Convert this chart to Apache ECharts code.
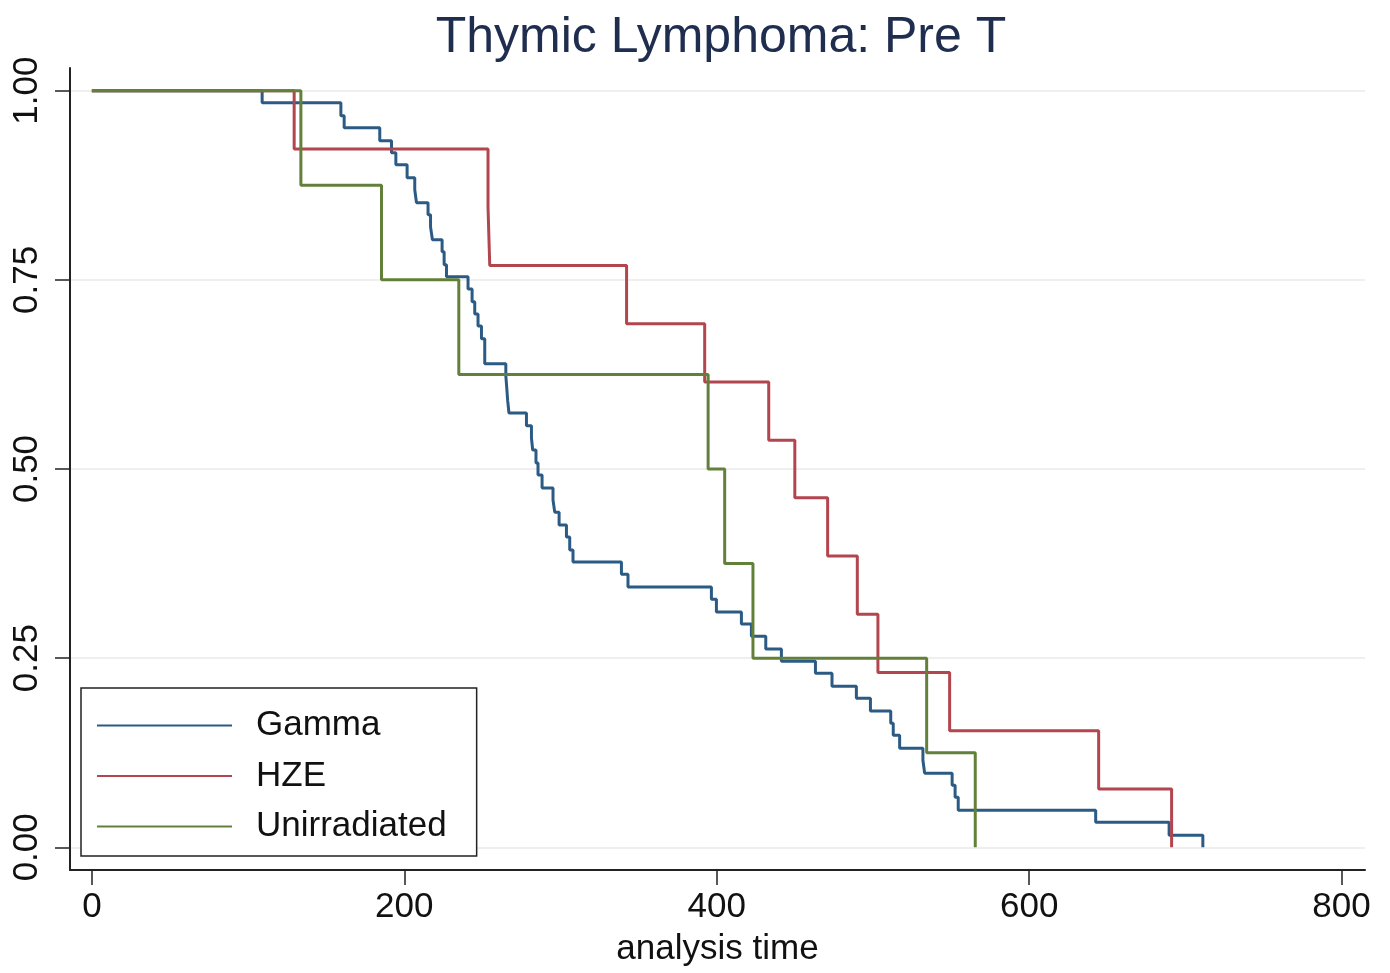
<!DOCTYPE html>
<html>
<head>
<meta charset="utf-8">
<title>Thymic Lymphoma: Pre T</title>
<script src="https://cdn.jsdelivr.net/npm/echarts@6/dist/echarts.min.js"></script>
<style>
  html, body { margin: 0; padding: 0; background: #ffffff; }
  #chart { width: 1390px; height: 973px; }
</style>
</head>
<body>
<div id="chart"></div>
<script>
// Kaplan-Meier survival estimates: event times (analysis time) and survivor function after each step
const gammaTimes = [0, 109.0, 159.4, 161.5, 184.3, 191.8, 194.6, 201.8, 206.7, 207.8, 215.2, 216.8, 218.0,
  224.2, 225.5, 227.0, 240.8, 243.4, 245.1, 247.2, 249.4, 251.5, 265.0, 265.6, 266.2, 267.0, 278.2,
  281.4, 282.2, 284.3, 285.6, 288.2, 295.2, 296.3, 299.1, 303.8, 305.9, 308.0, 339.0, 343.2, 396.6,
  399.8, 415.8, 422.2, 431.4, 441.4, 463.2, 473.8, 489.4, 498.4, 511.4, 513.0, 517.1, 532.0, 533.1,
  550.7, 552.6, 554.6, 642.6, 689.6, 711.2];
const gammaSurv = [1.000, 0.984, 0.967, 0.951, 0.934, 0.918, 0.902, 0.885, 0.869, 0.852, 0.836, 0.820, 0.803,
  0.787, 0.770, 0.754, 0.738, 0.721, 0.705, 0.689, 0.672, 0.639, 0.623, 0.607, 0.590, 0.574, 0.557,
  0.541, 0.525, 0.508, 0.492, 0.475, 0.459, 0.443, 0.426, 0.410, 0.393, 0.377, 0.361, 0.344, 0.328,
  0.311, 0.295, 0.279, 0.262, 0.246, 0.230, 0.213, 0.197, 0.180, 0.164, 0.148, 0.131, 0.115, 0.098,
  0.082, 0.066, 0.049, 0.033, 0.016, 0.000];

const hzeTimes = [0, 129.5, 253.6, 254.7, 342.3, 392.3, 433.3, 450.0, 471.0, 490.0, 503.2, 549.1, 644.5, 691.2];
const hzeSurv  = [1.000, 0.923, 0.846, 0.769, 0.692, 0.615, 0.538, 0.462, 0.385, 0.308, 0.231, 0.154, 0.077, 0.000];

const unirrTimes = [0, 133.8, 185.4, 234.9, 394.5, 405.1, 423.2, 534.4, 565.5];
const unirrSurv  = [1.000, 0.875, 0.750, 0.625, 0.500, 0.375, 0.250, 0.125, 0.000];

const seriesNames = ['Gamma', 'HZE', 'Unirradiated'];
const xTicks = [0, 200, 400, 600, 800];
const yTicks = [0, 0.25, 0.5, 0.75, 1];

const colors = ['#2b5b84', '#b2454d', '#62803a'];
const FONT = '"Liberation Sans", Arial, Helvetica, sans-serif';

function pairs(times, surv) {
  return times.map((t, i) => [t, surv[i]]);
}

const curves = [pairs(gammaTimes, gammaSurv), pairs(hzeTimes, hzeSurv), pairs(unirrTimes, unirrSurv)];

const chart = echarts.init(document.getElementById('chart'), null, { renderer: 'canvas' });

chart.setOption({
  animation: false,
  backgroundColor: '#ffffff',
  color: colors,
  textStyle: { fontFamily: FONT },
  title: {
    text: 'Thymic Lymphoma: Pre T',
    left: 716,
    textAlign: 'center',
    top: 8,
    textStyle: { fontFamily: FONT, fontSize: 50, fontWeight: 'normal', color: '#1f2d4f' }
  },
  grid: { left: 70, right: 25, top: 68, bottom: 103, containLabel: false },
  xAxis: {
    type: 'value',
    min: -14,
    max: 815,
    name: 'analysis time',
    nameLocation: 'middle',
    nameGap: 62,
    nameTextStyle: { fontFamily: FONT, fontSize: 35, color: '#111111' },
    axisLine: { show: true, onZero: false, lineStyle: { color: '#222222', width: 2 } },
    axisTick: { show: true, length: 15, lineStyle: { color: '#222222', width: 1.5 }, customValues: xTicks },
    axisLabel: { fontFamily: FONT, fontSize: 35, color: '#111111', margin: 20, customValues: xTicks },
    splitLine: { show: false }
  },
  yAxis: {
    type: 'value',
    min: -0.03,
    max: 1.03,
    axisLine: { show: true, onZero: false, lineStyle: { color: '#222222', width: 2 } },
    axisTick: { show: true, length: 15, lineStyle: { color: '#222222', width: 1.5 }, customValues: yTicks },
    axisLabel: {
      fontFamily: FONT, fontSize: 35, color: '#111111', margin: 25, rotate: 90,
      customValues: yTicks,
      formatter: v => v.toFixed(2)
    },
    splitLine: { show: true, lineStyle: { color: '#eaeaea', width: 1.5 } }
  },
  legend: {
    orient: 'vertical',
    left: 81,
    top: 688,
    padding: [20, 30, 12, 16],
    itemGap: 15.5,
    itemWidth: 135,
    itemHeight: 2,
    icon: 'rect',
    borderColor: '#222222',
    borderWidth: 1.5,
    backgroundColor: '#ffffff',
    textStyle: { fontFamily: FONT, fontSize: 35, color: '#111111', padding: [0, 0, 0, 19] },
    data: seriesNames
  },
  series: seriesNames.map((name, i) => ({
    name: name,
    type: 'line',
    step: 'end',
    data: curves[i],
    showSymbol: false,
    symbol: 'none',
    lineStyle: { width: 3, color: colors[i] },
    itemStyle: { color: colors[i] },
    emphasis: { disabled: true },
    z: 2 + i
  }))
});
</script>
</body>
</html>
